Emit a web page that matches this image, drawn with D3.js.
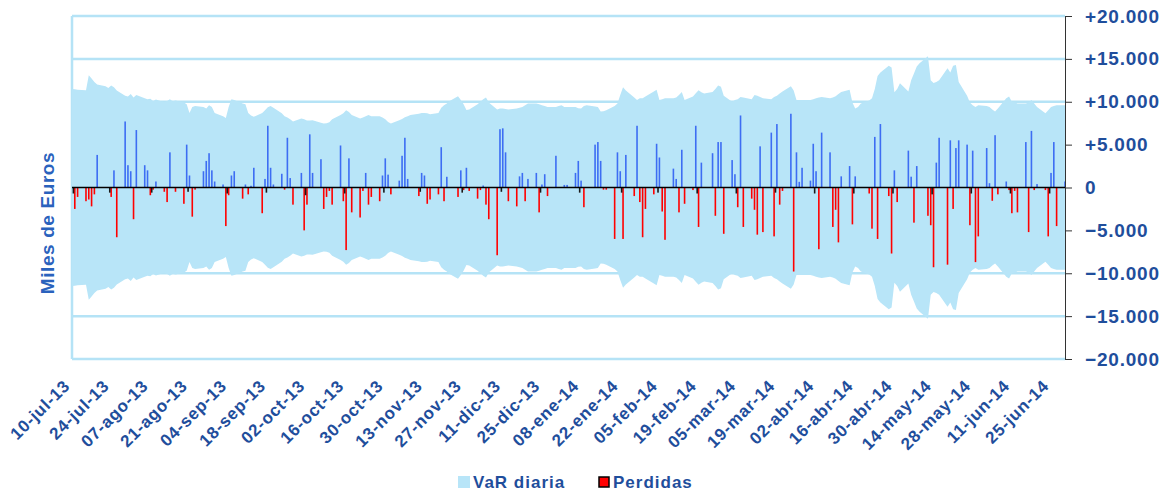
<!DOCTYPE html>
<html lang="es">
<head>
<meta charset="utf-8">
<title>VaR diaria y Perdidas</title>
<script src="https://cdn.jsdelivr.net/npm/d3@7"></script>
<style>
    body { margin: 0; background: #fff; }
    svg text { font-family: "Liberation Sans", Arial, sans-serif; font-weight: bold; }
</style>
</head>
<body>
<svg id="chart" width="1170" height="497"></svg>
<script>

    // primer y ultimo dia habil del periodo
    const fechaInicio = "2013-07-10";
    const fechaFin = "2014-06-30";

    // fechas de las etiquetas del eje x (cada 14 dias)
    const fechasEtiqueta = [
        "2013-07-10", "2013-07-24", "2013-08-07", "2013-08-21", "2013-09-04", "2013-09-18",
        "2013-10-02", "2013-10-16", "2013-10-30", "2013-11-13", "2013-11-27", "2013-12-11",
        "2013-12-25", "2014-01-08", "2014-01-22", "2014-02-05", "2014-02-19", "2014-03-05",
        "2014-03-19", "2014-04-02", "2014-04-16", "2014-04-30", "2014-05-14", "2014-05-28",
        "2014-06-11", "2014-06-25"
    ];

    // VaR diaria (miles de euros), un valor por dia habil, una linea por semana
    const varDiaria = [
        11500, 11450, 11400,
        11350, 13100, 12700, 12300, 12000,
        11800, 11600, 11900, 11700, 11300,
        10700, 10600, 10900, 10500, 10800,
        10400, 10300, 10350, 10100, 10250,
        9950, 10100, 10300, 10050, 10150,
        9900, 9700, 8700, 9400, 9500,
        9400, 9200, 9600, 9400, 8700,
        8300, 8100, 9400, 10300, 10200,
        9800, 9700, 8700, 8400, 8250,
        8700, 9000, 9350, 9500, 9300,
        8650, 8300, 8150, 7950, 7700,
        8050, 7950, 7800, 7800, 7850,
        7550, 7450, 7500, 7600, 7950,
        8450, 8650, 9000, 8800, 8450,
        8050, 8150, 8300, 8450, 8300,
        8300, 8150, 7950, 7650, 7450,
        7850, 8000, 8200, 8300, 8450,
        8600, 8700, 8700, 8650, 8550,
        8700, 9300, 9600, 9800, 10100,
        10650, 10200, 9700, 9050, 9100,
        9700, 10000, 10300, 10500, 9900,
        9100, 9200, 9200, 9150, 9100,
        9200, 9300, 9400, 9600, 9800,
        9800, 9700, 9600, 9500, 9400,
        9400, 9500, 9600, 9400, 9400,
        9400, 9250, 9200, 9500, 9600,
        9450, 9400, 8850, 8900, 9000,
        9500, 9800, 10800, 11700, 11300,
        10500, 10200, 10400, 10400, 10600,
        11200, 11400, 10200, 10300, 10400,
        10400, 10500, 10800, 11150, 10200,
        10600, 11000, 11350, 11100, 10950,
        11150, 11500, 11900, 11750, 10700,
        10000, 10200, 10300, 10550, 10500,
        10300, 10800, 10700, 10550, 10400,
        10300, 10550, 10700, 10950, 11200,
        11800, 11300, 10200, 10200, 10200,
        10200, 10300, 10400, 10500, 10550,
        10400, 10500, 10650, 10900, 11150,
        11400, 9900, 9200, 9400, 9800,
        10150, 10400, 11500, 13000, 13400,
        14200, 14000, 11100, 11500, 12150,
        11200, 12500, 13300, 14100, 14500,
        15300, 12500, 12200, 12300, 12500,
        13900, 13400, 14200, 14300, 12300,
        10700, 9900, 9600, 9400, 9600,
        9500, 9400, 9100, 8850, 9200,
        10400, 10600, 10000, 9950, 9800,
        9800, 9900, 10200, 9800, 9400,
        8650, 9000, 9400, 9500, 9600,
        9600
    ];

    // resultado diario (miles de euros): positivo en azul, negativo (perdidas) en rojo
    const resultado = [
        0, -2500, -1100,
        -1600, -1400, -2200, -800, 3800,
        0, 0, -1100, 2000, -5800,
        7700, 2600, 1900, -3700, 6700,
        2600, 2000, -900, -250, 700,
        -500, -1700, 4100, 0, -500,
        -1900, 5000, 1400, -3400, -250,
        1900, 3100, 4000, 2000, 700,
        350, -4500, -900, 1400, 1900,
        -1300, 350, -800, 200, 2300,
        -3000, 1000, 7200, 2300, 350,
        1600, -250, 5800, 1100, -2000,
        1700, -5000, -2000, 6200, 1700,
        3300, -2500, -1100, -400, -2000,
        4900, -1600, -7300, 3400, -2900,
        -3500, -400, 1700, -2000, -1100,
        -1600, 1400, 3400, 1500, -800,
        800, 3700, 5800, 1000, 0,
        -1000, 1700, 1400, -1900, -1400,
        -800, 4700, -1600, 1250, 0,
        -1100, 2000, -300, 2300, -400,
        -1300, -300, 230, -2000, -3700,
        -7900, 6800, 6900, 4100, -1600,
        -2200, 1300, 1700, -1600, 1000,
        1700, -2900, 350, 1550, -1000,
        3700, 0, 0, 300, 300,
        1700, 3100, 800, -2300, 0,
        5000, 5300, 3100, -250, -250,
        -6000, 4100, 1900, -6000, 3800,
        -1000, 7200, -1700, -5800, -2500,
        -800, 5100, 3500, -2800, -6100,
        2200, 1000, -2900, 4400, -1900,
        -300, 7200, -4600, 2900, 0,
        4000, -3300, 5300, 5300, -5400,
        3200, 1550, -2300, 8400, -4600,
        -1300, -2600, -5500, 4800, -5200,
        6400, -5700, 7400, -2000, -400,
        8600, -9800, 4100, 660, 2300,
        800, 5100, 1900, -7200, 6400,
        4100, -4600, -2600, -6400, 1300,
        2500, -4300, 1300, 0, 0,
        -700, -4800, 5900, -6000, 7400,
        -1000, -7700, 2000, -1700, 0,
        4300, 1260, -4100, 2500, 0,
        -3300, -4400, -9300, 2900, 5800,
        -9000, 5500, -2500, 4600, 5500,
        5000, -4400, 4300, -8700, -5700,
        4600, 500, -1550, 6100, -800,
        700, -300, -3000, -400, -2900,
        5300, -5200, 6600, -300, 400,
        -300, -5700, 1700, 5300, -4500,
        700
    ];

    // pequenos ajustes quincenales (barras negras)
    const ajustes = [
        ["2013-07-10", -700], ["2013-07-23", -600], ["2013-08-07", -600], ["2013-08-20", -500],
        ["2013-09-03", -700], ["2013-09-17", -600], ["2013-10-01", -900], ["2013-10-15", -700],
        ["2013-10-29", -600], ["2013-11-11", -500], ["2013-11-26", -600], ["2013-12-10", -500],
        ["2013-12-24", -600], ["2014-01-07", -600], ["2014-01-22", -600], ["2014-02-04", -600],
        ["2014-02-18", -700], ["2014-03-04", -700], ["2014-03-18", -600], ["2014-04-01", -700],
        ["2014-04-15", -700], ["2014-04-29", -700], ["2014-05-13", -800], ["2014-05-27", -700],
        ["2014-06-10", -700], ["2014-06-24", -700]
    ];

    const yTicks = [-20000, -15000, -10000, -5000, 0, 5000, 10000, 15000, 20000];

    const parse = d3.timeParse("%Y-%m-%d");
    const es = d3.timeFormatLocale({
        dateTime: "%A, %e de %B de %Y, %X", date: "%d/%m/%Y", time: "%H:%M:%S",
        periods: ["AM", "PM"],
        days: ["domingo", "lunes", "martes", "miércoles", "jueves", "viernes", "sábado"],
        shortDays: ["dom", "lun", "mar", "mié", "jue", "vie", "sáb"],
        months: ["enero", "febrero", "marzo", "abril", "mayo", "junio", "julio", "agosto", "septiembre", "octubre", "noviembre", "diciembre"],
        shortMonths: ["ene", "feb", "mar", "abr", "may", "jun", "jul", "ago", "sep", "oct", "nov", "dic"]
    });
    const formatFecha = es.format("%d-%b-%y");
    const num = d3.formatLocale({decimal: ",", thousands: ".", grouping: [3], currency: ["", " €"]}).format(",");

    // dias habiles del periodo
    const inicio = parse(fechaInicio), fin = parse(fechaFin);
    const dias = d3.timeDay.range(inicio, d3.timeDay.offset(fin, 1))
        .filter(d => d.getDay() !== 0 && d.getDay() !== 6);

    const serie = dias.map((d, i) => ({fecha: d, var: varDiaria[i], res: resultado[i]}));

    const svg = d3.select("#chart");
    const mLeft = 72, mRight = 1065, mTop = 16, mBottom = 359;

    const x = d3.scaleTime().domain([inicio, fin]).range([mLeft, mRight]);
    const y = d3.scaleLinear().domain([-20000, 20000]).range([mBottom, mTop]);

    const gridColor = "#b5e3f6";
    const areaColor = "#b8e5f8";
    const textColor = "#1f4e9c";

    // lineas de referencia
    svg.append("g").selectAll("line")
        .data(yTicks).enter()
        .append("line")
        .attr("x1", mLeft).attr("x2", mRight)
        .attr("y1", d => y(d)).attr("y2", d => y(d))
        .attr("stroke", gridColor).attr("stroke-width", 2.5);

    svg.append("line")
        .attr("x1", mLeft).attr("x2", mLeft)
        .attr("y1", mTop).attr("y2", mBottom)
        .attr("stroke", gridColor).attr("stroke-width", 2.5);

    // banda VaR (+/-)
    const area = d3.area()
        .x(d => x(d.fecha))
        .y0(d => y(-d.var))
        .y1(d => y(d.var));

    svg.append("path")
        .datum(serie)
        .attr("d", area)
        .attr("fill", areaColor);

    // barras de resultado
    svg.append("g").selectAll("rect")
        .data(serie.filter(d => d.res !== 0)).enter()
        .append("rect")
        .attr("x", d => x(d.fecha) - 0.8)
        .attr("width", 1.6)
        .attr("y", d => y(Math.max(0, d.res)))
        .attr("height", d => Math.abs(y(d.res) - y(0)))
        .attr("fill", d => d.res > 0 ? "#3d6df3" : "#ff0000");

    svg.append("g").selectAll("rect")
        .data(ajustes).enter()
        .append("rect")
        .attr("x", d => x(parse(d[0])) + 0.6)
        .attr("width", 1.6)
        .attr("y", y(0))
        .attr("height", d => y(d[1]) - y(0))
        .attr("fill", "#1a1a1a");

    // linea cero
    svg.append("line")
        .attr("x1", mLeft).attr("x2", mRight)
        .attr("y1", y(0)).attr("y2", y(0))
        .attr("stroke", "#000").attr("stroke-width", 1.6);

    // eje y a la derecha
    const yAxis = d3.axisRight(y)
        .tickValues(yTicks)
        .tickSize(7)
        .tickSizeOuter(0)
        .tickPadding(13)
        .tickFormat(d => (d > 0 ? "+" : "") + num(d));

    const gy = svg.append("g")
        .attr("transform", `translate(${mRight},0)`)
        .call(yAxis);
    gy.select(".domain").attr("stroke", "#333");
    gy.selectAll(".tick line").attr("stroke", "#333");
    gy.selectAll(".tick text")
        .attr("fill", textColor)
        .style("font-size", "19px")
        .style("letter-spacing", "0.8px");

    // etiquetas eje x
    svg.append("g").selectAll("text")
        .data(fechasEtiqueta).enter()
        .append("text")
        .attr("transform", d => `translate(${x(parse(d)) - 1},387) rotate(-45)`)
        .attr("text-anchor", "end")
        .attr("fill", textColor)
        .style("font-size", "17px")
        .style("letter-spacing", "0.8px")
        .text(d => formatFecha(parse(d)));

    // titulo eje
    svg.append("text")
        .attr("transform", "translate(54,223) rotate(-90)")
        .attr("text-anchor", "middle")
        .attr("fill", "#2a62bd")
        .style("font-size", "19px")
        .style("letter-spacing", "0.6px")
        .text("Miles de Euros");

    // leyenda
    const legend = svg.append("g");
    legend.append("rect")
        .attr("x", 458).attr("y", 476).attr("width", 12).attr("height", 12)
        .attr("fill", areaColor);
    legend.append("text")
        .attr("x", 473).attr("y", 488)
        .attr("fill", textColor)
        .style("font-size", "17px").style("letter-spacing", "1px")
        .text("VaR diaria");
    legend.append("rect")
        .attr("x", 599).attr("y", 477).attr("width", 10).attr("height", 10)
        .attr("fill", "#ff0000").attr("stroke", "#000").attr("stroke-width", 1.5);
    legend.append("text")
        .attr("x", 613).attr("y", 488)
        .attr("fill", textColor)
        .style("font-size", "17px").style("letter-spacing", "1px")
        .text("Perdidas");

</script>
</body>
</html>
